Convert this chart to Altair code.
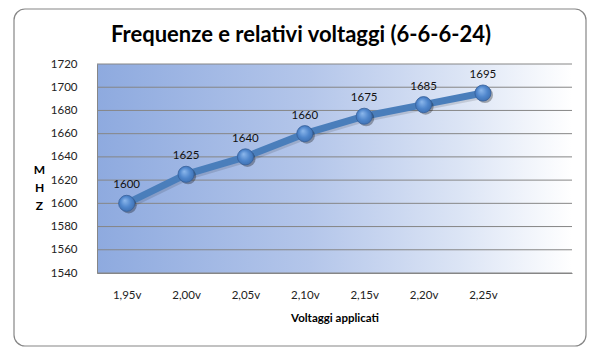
import altair as alt
import pandas as pd

title_text = "Frequenze e relativi voltaggi (6-6-6-24)"
categories = ["1,95v", "2,00v", "2,05v", "2,10v", "2,15v", "2,20v", "2,25v"]
mhz = [1600, 1625, 1640, 1660, 1675, 1685, 1695]
y_ticks = [1540, 1560, 1580, 1600, 1620, 1640, 1660, 1680, 1700, 1720]
x_domain = categories + [" "]

df = pd.DataFrame({"v": categories, "mhz": mhz})
ticks_df = pd.DataFrame({"mhz": y_ticks})

W, H = 475, 209
FONT = "Lato"
GRAY = "#868686"

yscale = alt.Scale(domain=[1540, 1720], nice=False, zero=False)
yaxis = alt.Axis(values=y_ticks, format="d", title=["M", "H", "Z"], titleAngle=0,
                 titleX=-58, titleY=105, titleAlign="center",
                 titleBaseline="middle", titleLineHeight=18,
                 titleFontSize=12, titleFontWeight="bold", titleColor="#000",
                 ticks=False, labelPadding=20, labelFontSize=11.5,
                 labelColor="#222", domainColor=GRAY, grid=False, zindex=1,
                 labelFont=FONT, titleFont=FONT)
xs = alt.X("v:N", scale=alt.Scale(domain=x_domain, paddingInner=0, paddingOuter=0),
           sort=None,
           axis=alt.Axis(title="Voltaggi applicati", labelAngle=0, ticks=False,
                         labelPadding=16, labelFontSize=11.5, labelColor="#222",
                         titleFontSize=11.5, titleFontWeight="bold", titlePadding=12,
                         titleColor="#000", domainColor=GRAY, zindex=1, grid=False,
                         labelFont=FONT, titleFont=FONT))
ys = alt.Y("mhz:Q", scale=yscale, axis=yaxis)

border = alt.Chart(alt.Data(values=[{}])).mark_rect(
    fill="white", stroke=GRAY, strokeWidth=1.2, cornerRadius=11
).encode(x=alt.value(-83), x2=alt.value(489), y=alt.value(-55), y2=alt.value(282))

title = alt.Chart(alt.Data(values=[{"t": title_text}])).mark_text(
    font=FONT, fontSize=22, fontWeight="bold", color="#000", align="center",
    baseline="alphabetic"
).encode(x=alt.value(204), y=alt.value(-22), text="t:N")

grad = alt.LinearGradient(
    gradient="linear", x1=0, y1=0, x2=1, y2=0,
    stops=[alt.GradientStop(color="#8eaadf", offset=0),
           alt.GradientStop(color="#b4c6ea", offset=0.45),
           alt.GradientStop(color="#dbe4f5", offset=0.76),
           alt.GradientStop(color="#ffffff", offset=1)])
bg = alt.Chart(alt.Data(values=[{}])).mark_rect(fill=grad, strokeWidth=0).encode(
    x=alt.value(0), x2=alt.value(W), y=alt.value(0), y2=alt.value(H))

rules = alt.Chart(ticks_df).mark_rule(color=GRAY, strokeWidth=1).encode(y=ys)

shadow_line = alt.Chart(df).mark_line(color="#000", opacity=0.12, strokeWidth=7,
                                      xOffset=2, yOffset=2).encode(x=xs, y=ys)
line = alt.Chart(df).mark_line(color="#4a7ebb", strokeWidth=7).encode(x=xs, y=ys)

shadow_pts = alt.Chart(df).mark_circle(color="#000", opacity=0.3, size=260,
                                       xOffset=2, yOffset=2).encode(x=xs, y=ys)
pgrad = alt.RadialGradient(
    gradient="radial", x1=0.38, y1=0.32, r1=0, x2=0.5, y2=0.5, r2=0.6,
    stops=[alt.GradientStop(color="#8db8ec", offset=0),
           alt.GradientStop(color="#4f86cc", offset=0.55),
           alt.GradientStop(color="#3a6bab", offset=1)])
points = alt.Chart(df).mark_point(filled=True, fill=pgrad, size=260, opacity=1,
                                  stroke="#36609a", strokeWidth=0.8,
                                  shape="circle").encode(x=xs, y=ys)

labels = alt.Chart(df).mark_text(dy=-18, fontSize=11.5, color="#111", font=FONT).encode(
    x=xs, y=ys, text="mhz:Q")

chart = alt.layer(border, title, bg, rules, shadow_line, line, shadow_pts, points, labels).properties(
    width=W, height=H,
    autosize=alt.AutoSizeParams(type="none"),
    padding={"left": 89, "top": 56, "right": 18, "bottom": 74},
).configure_view(stroke=None).configure(background="white")

chart.save("out.html", embed_options={"renderer": "svg", "actions": False})
